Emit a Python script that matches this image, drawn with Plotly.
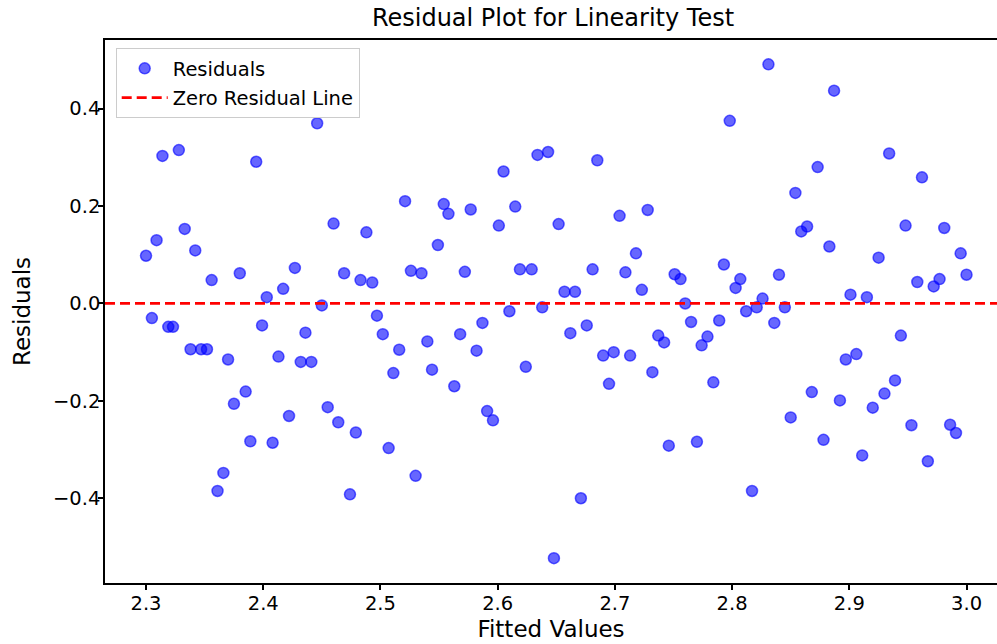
import plotly.graph_objects as go

fitted_values = [
    2.300, 2.305, 2.309, 2.314, 2.319, 2.323, 2.328, 2.333, 2.338, 2.342,
    2.347, 2.352, 2.356, 2.361, 2.366, 2.370, 2.375, 2.380, 2.385, 2.389,
    2.394, 2.399, 2.403, 2.408, 2.413, 2.417, 2.422, 2.427, 2.432, 2.436,
    2.441, 2.446, 2.450, 2.455, 2.460, 2.464, 2.469, 2.474, 2.479, 2.483,
    2.488, 2.493, 2.497, 2.502, 2.507, 2.511, 2.516, 2.521, 2.526, 2.530,
    2.535, 2.540, 2.544, 2.549, 2.554, 2.558, 2.563, 2.568, 2.572, 2.577,
    2.582, 2.587, 2.591, 2.596, 2.601, 2.605, 2.610, 2.615, 2.619, 2.624,
    2.629, 2.634, 2.638, 2.643, 2.648, 2.652, 2.657, 2.662, 2.666, 2.671,
    2.676, 2.681, 2.685, 2.690, 2.695, 2.699, 2.704, 2.709, 2.713, 2.718,
    2.723, 2.728, 2.732, 2.737, 2.742, 2.746, 2.751, 2.756, 2.760, 2.765,
    2.770, 2.774, 2.779, 2.784, 2.789, 2.793, 2.798, 2.803, 2.807, 2.812,
    2.817, 2.821, 2.826, 2.831, 2.836, 2.840, 2.845, 2.850, 2.854, 2.859,
    2.864, 2.868, 2.873, 2.878, 2.883, 2.887, 2.892, 2.897, 2.901, 2.906,
    2.911, 2.915, 2.920, 2.925, 2.930, 2.934, 2.939, 2.944, 2.948, 2.953,
    2.958, 2.962, 2.967, 2.972, 2.977, 2.981, 2.986, 2.991, 2.995, 3.000,
]

residuals = [
    0.098, -0.030, 0.130, 0.303, -0.048, -0.048, 0.315, 0.153, -0.094, 0.109,
    -0.094, -0.094, 0.048, -0.385, -0.348, -0.115, -0.206, 0.062, -0.181, -0.283,
    0.291, -0.045, 0.013, -0.286, -0.109, 0.030, -0.231, 0.073, -0.120, -0.060,
    -0.120, 0.370, -0.004, -0.213, 0.164, -0.244, 0.062, -0.392, -0.265, 0.048,
    0.146, 0.043, -0.025, -0.063, -0.297, -0.143, -0.095, 0.210, 0.067, -0.354,
    0.062, -0.078, -0.136, 0.120, 0.204, 0.184, -0.170, -0.063, 0.065, 0.193,
    -0.097, -0.040, -0.221, -0.240, 0.160, 0.271, -0.016, 0.199, 0.070, -0.130,
    0.070, 0.305, -0.008, 0.311, -0.523, 0.163, 0.024, -0.061, 0.024, -0.400,
    -0.045, 0.070, 0.294, -0.107, -0.165, -0.100, 0.180, 0.064, -0.107, 0.103,
    0.028, 0.192, -0.141, -0.066, -0.080, -0.292, 0.060, 0.050, 0.000, -0.038,
    -0.284, -0.086, -0.068, -0.162, -0.035, 0.080, 0.375, 0.032, 0.050, -0.016,
    -0.385, -0.008, 0.010, 0.491, -0.040, 0.059, -0.008, -0.234, 0.227, 0.148,
    0.158, -0.182, 0.280, -0.280, 0.117, 0.437, -0.199, -0.115, 0.018, -0.104,
    -0.312, 0.013, -0.214, 0.094, -0.185, 0.308, -0.158, -0.066, 0.160, -0.250,
    0.044, 0.259, -0.324, 0.035, 0.050, 0.155, -0.249, -0.266, 0.103, 0.059,
]

x_ticks = [2.3, 2.4, 2.5, 2.6, 2.7, 2.8, 2.9, 3.0]
y_ticks = [-0.4, -0.2, 0.0, 0.2, 0.4]

FONT = "DejaVu Sans"

fig = go.Figure()
fig.add_trace(go.Scatter(
    x=fitted_values, y=residuals, mode="markers", name="Residuals",
    legendgroup="a",
    marker=dict(size=11, color="rgba(0,0,255,0.6)",
                line=dict(width=1.5, color="rgba(0,0,255,0.6)")),
))
fig.add_hline(y=0, line=dict(color="red", width=2.8, dash="10px,5px"),
              layer="above", showlegend=True, name="Zero Residual Line",
              legendgroup="b")

fig.update_layout(
    width=997, height=644,
    margin=dict(l=105, r=0, t=40, b=61, autoexpand=False),
    paper_bgcolor="white", plot_bgcolor="white",
    font=dict(family=FONT, size=19.5, color="black"),
    title=dict(text="Residual Plot for Linearity Test", font=dict(size=24),
               x=553 / 997, xref="container", xanchor="center",
               y=1 - 18 / 644, yref="container", yanchor="middle"),
    showlegend=True,
    legend=dict(x=0.012, y=0.985, xanchor="left", yanchor="top",
                bgcolor="rgba(255,255,255,0.8)", bordercolor="#cccccc",
                borderwidth=1, font=dict(size=19.5), itemwidth=46,
                tracegroupgap=1),
    xaxis=dict(range=[2.265, 3.026], tickvals=x_ticks, tickformat=".1f",
               automargin=False,
               showgrid=False, zeroline=False, showline=True,
               linecolor="black", linewidth=1.5, mirror=True,
               ticks="outside", ticklen=5, tickwidth=1.5, tickcolor="black",
               ticklabelstandoff=-3,
               title=dict(text="Fitted Values", standoff=7)),
    yaxis=dict(range=[-0.574, 0.541], tickvals=y_ticks, tickformat=".1f",
               automargin=False,
               showgrid=False, zeroline=False, showline=True,
               linecolor="black", linewidth=1.5, mirror=False,
               ticks="outside", ticklen=5, tickwidth=1.5, tickcolor="black",
               ticklabelstandoff=-6,
               title=dict(text="Residuals", standoff=16)),
)

fig.write_html("out.html",
               config={"displayModeBar": False},
               post_script="document.body.style.margin='0px';"
                           "document.body.style.padding='0px';")
